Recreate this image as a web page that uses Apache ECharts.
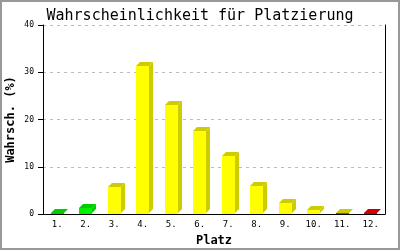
<!DOCTYPE html>
<html><head><meta charset="utf-8">
<script src="https://cdn.jsdelivr.net/npm/echarts@6/dist/echarts.min.js"></script>
<style>html,body{margin:0;padding:0;background:#fff}#c{width:400px;height:250px}</style>
</head><body><div id="c"></div>
<script>
const categories = ['1.','2.','3.','4.','5.','6.','7.','8.','9.','10.','11.','12.'];
const values = [0.2, 1.2, 5.7, 31.3, 23.1, 17.6, 12.2, 6.0, 2.4, 0.9, 0.3, 0.2];
const yTicks = [0, 10, 20, 30, 40];

const frontColors = ['#00cc00','#00ee00','#ffff00','#ffff00','#ffff00','#ffff00','#ffff00','#ffff00','#ffff00','#ffff00','#ee2200','#cc0000'];
const topColors = ['#00cc00','#00cc00','#cccc00','#cccc00','#cccc00','#cccc00','#cccc00','#cccc00','#cccc00','#cccc00','#cccc00','#cc0000'];

const chart = echarts.init(document.getElementById('c'), null, {renderer:'canvas'});
const mono = '"DejaVu Sans Mono", monospace';
chart.setOption({
  animation: false,
  backgroundColor: '#fff',
  title: {text: 'Wahrscheinlichkeit für Platzierung', left: 'center', top: 4,
    textStyle: {fontFamily: mono, fontSize: 15, fontWeight: 'normal', color: '#000'}},
  grid: {left: 43, right: 15, top: 25, bottom: 36, containLabel: false, outerBoundsMode: 'none'},
  xAxis: {type: 'category', data: categories,
    name: 'Platz', nameLocation: 'middle', nameGap: 21, nameMoveOverlap: false,
    nameTextStyle: {fontFamily: mono, fontSize: 12, fontWeight: 'bold', color: '#000', padding:[0,0,0,0]},
    axisLine: {lineStyle: {color: '#000', width: 1}}, axisTick: {show: false},
    axisLabel: {fontFamily: mono, fontSize: 9, color: '#000', margin: 6}},
  yAxis: [{type: 'value', min: yTicks[0], max: yTicks[yTicks.length-1], interval: 10,
    name: 'Wahrsch. (%)', nameLocation: 'middle', nameGap: 26, nameMoveOverlap: false,
    nameTextStyle: {fontFamily: mono, fontSize: 12, fontWeight: 'bold', color: '#000'},
    axisLine: {show: true, lineStyle: {color: '#000', width: 1}},
    axisTick: {show: true, length: 5, lineStyle: {color: '#000'}},
    axisLabel: {fontFamily: mono, fontSize: 8, color: '#000', margin: 9},
    splitLine: {show: true, lineStyle: {color: '#bbb', type: [3, 4]}}},
   {type: 'value', min: 0, max: 40, interval: 10, position: 'right',
    axisLine: {show: true, lineStyle: {color: '#000'}}, axisTick: {show: false},
    axisLabel: {show: false}, splitLine: {show: false}}],
  graphic: [{type: 'rect', shape: {x: 1, y: 1, width: 398, height: 248},
    style: {fill: 'none', stroke: '#999', lineWidth: 2}, silent: true}],
  series: [{type: 'custom',
    data: values.map((v, i) => [i, v]),
    renderItem: function (params, api) {
      const i = api.value(0), v = api.value(1);
      const p0 = api.coord([i, 0]);
      const p1 = api.coord([i, v]);
      const bw = Math.round(api.size([1, 0])[0] * 0.46);
      const xl = Math.round(p0[0] - bw / 2), xr = xl + bw;
      const y0 = Math.round(p0[1]) - 1, y1 = Math.round(p1[1]);
      const d = 4, dy = 4;
      const fc = frontColors[i], tc = topColors[i];
      return {type: 'group', children: [
        {type: 'polygon', shape: {points: [[xr, y1], [xr + d, y1 - dy], [xr + d, y0 - dy], [xr, y0]]}, style: {fill: tc}},
        {type: 'polygon', shape: {points: [[xl, y1], [xl + d, y1 - dy], [xr + d, y1 - dy], [xr, y1]]}, style: {fill: tc}},
        {type: 'rect', shape: {x: xl, y: y1, width: bw, height: Math.max(0, y0 - y1 + 1)}, style: {fill: fc}}
      ]};
    }}]
});
</script></body></html>
